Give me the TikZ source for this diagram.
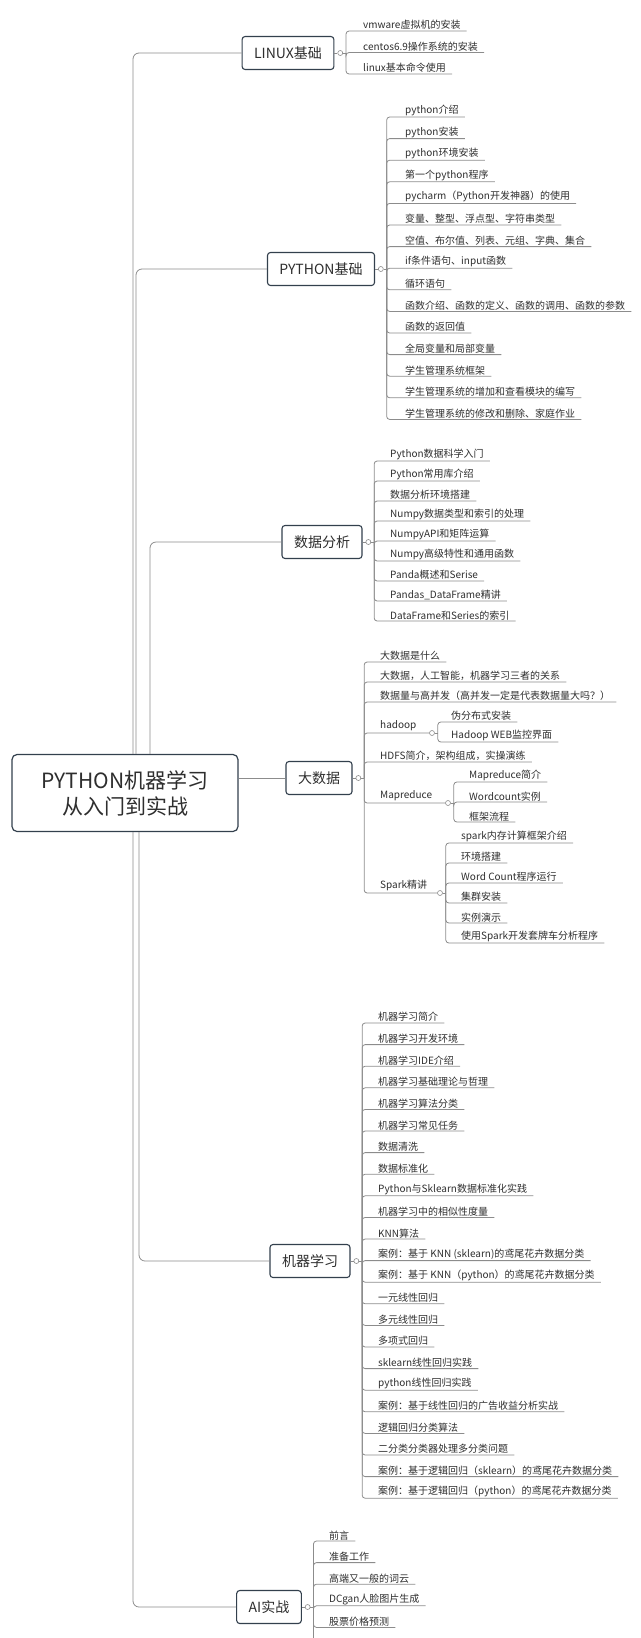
\documentclass[tikz,border=0pt]{standalone}
\usepackage{fontspec}
\setmainfont{Noto Sans CJK SC}
\usetikzlibrary{positioning}
\definecolor{boxline}{HTML}{33404D}
\definecolor{txt}{HTML}{2E2E2E}
\definecolor{wire}{HTML}{8C8C8C}
\tikzset{
  root/.style={draw=boxline, line width=1.2pt, rounded corners=5pt, fill=white, text=txt, align=center,
    minimum width=226pt, minimum height=77pt, font=\fontsize{21}{26}\selectfont},
  branch/.style={draw=boxline, line width=1.1pt, rounded corners=3pt, fill=white, text=txt,
    minimum height=33pt, inner xsep=12pt, font=\fontsize{14}{16}\selectfont},
  leaf/.style={anchor=south west, inner sep=1pt, text=txt, font=\fontsize{10}{12}\selectfont},
  knob/.style={circle, draw=wire, fill=white, inner sep=0pt, minimum size=5pt, line width=0.6pt},
  link/.style={draw=wire, line width=0.8pt, rounded corners=3pt},
  trunk/.style={draw=wire, line width=0.8pt, rounded corners=6pt}
}
\begin{document}
\begin{tikzpicture}[x=1pt, y=-1pt]
\useasboundingbox (0,0) rectangle (640,1638);
\clip (0,0) rectangle (640,1638);

% main topics
\node (root)  [root]   at (125,793)  {PYTHON机器学习\\从入门到实战};
\node (linux) [branch] at (288,53)   {LINUX基础};
\node (py)    [branch] at (321,269)  {PYTHON基础};
\node (da)    [branch] at (322,542)  {数据分析};
\node (bd)    [branch] at (319,778)  {大数据};
\node (ml)    [branch] at (310,1261) {机器学习};
\node (ai)    [branch] at (269,1607) {AI实战};

\draw [trunk] ([xshift=8pt]root.north)  |- (linux.west);
\draw [trunk] ([xshift=11pt]root.north) |- (py.west);
\draw [trunk] ([xshift=25pt]root.north) |- (da.west);
\draw [link]  (root.east |- bd) -- (bd.west);
\draw [trunk] ([xshift=14pt]root.south) |- (ml.west);
\draw [trunk] ([xshift=8pt]root.south)  |- (ai.west);

% knobs
\foreach \b in {linux,py,da,bd,ml,ai} {
  \node (\b k) [knob, right=3pt of \b] {};
  \coordinate (\b v) at ([xshift=3pt]\b k.east);
  \draw [link] (\b) -- (\b k) -- (\b v);
}

% LINUX
\foreach \t [count=\i] in {vmware虚拟机的安装, centos6.9操作系统的安装, linux基本命令使用} {
  \node (linux-\i) [leaf] at (362,{32+21.5*(\i-1)-1}) {\t};
  \draw [link] (linuxv) |- ([xshift=5pt]linux-\i.south east);
}

% PYTHON
\foreach \t [count=\i] in {python介绍, python安装, python环境安装, 第一个python程序,
  {pycharm（Python开发神器）的使用}, {变量、整型、浮点型、字符串类型}, {空值、布尔值、列表、元组、字典、集合},
  {if条件语句、input函数}, 循环语句, {函数介绍、函数的定义、函数的调用、函数的参数}, 函数的返回值,
  全局变量和局部变量, 学生管理系统框架, 学生管理系统的增加和查看模块的编写, {学生管理系统的修改和删除、家庭作业}} {
  \node (py-\i) [leaf] at (404,{118+21.6*(\i-1)-1}) {\t};
  \draw [link] (pyv) |- ([xshift=5pt]py-\i.south east);
}

% 数据分析
\foreach \t [count=\i] in {Python数据科学入门, Python常用库介绍, 数据分析环境搭建, Numpy数据类型和索引的处理,
  NumpyAPI和矩阵运算, Numpy高级特性和通用函数, Panda概述和Serise, Pandas\_DataFrame精讲, DataFrame和Series的索引} {
  \node (da-\i) [leaf] at (389,{462+20*(\i-1)-1}) {\t};
  \draw [link] (dav) |- ([xshift=5pt]da-\i.south east);
}

% 大数据
\foreach \y/\t [count=\i] in {663/大数据是什么, 683/{大数据，人工智能，机器学习三者的关系},
  703/{数据量与高并发（高并发一定是代表数据量大吗？）}, 763/{HDFS简介，架构组成，实操演练}} {
  \node (bd-\i) [leaf] at (379,\y-1) {\t};
  \draw [link] (bdv) |- ([xshift=5pt]bd-\i.south east);
}
\node (hadoop) [leaf] at (379,732) {hadoop};
\node (mapred) [leaf] at (379,802) {Mapreduce};
\node (spark)  [leaf] at (379,892) {Spark精讲};
\node (hadoopk) [knob] at (432,733) {};
\node (mapredk) [knob] at (448,803) {};
\node (sparkk)  [knob] at (440,893) {};
\foreach \s in {hadoop,mapred,spark} {
  \draw [link] (bdv) |- (\s k.west);
  \coordinate (\s v) at ([xshift=3pt]\s k.east);
  \draw [link] (\s k) -- (\s v);
}
\foreach \y/\t [count=\i] in {723/伪分布式安装, 743/Hadoop WEB监控界面} {
  \node (hadoop-\i) [leaf] at (450,\y-1) {\t};
  \draw [link] (hadoopv) |- ([xshift=5pt]hadoop-\i.south east);
}
\foreach \y/\t [count=\i] in {783/Mapreduce简介, 803/Wordcount实例, 823/框架流程} {
  \node (mapred-\i) [leaf] at (468,\y-1) {\t};
  \draw [link] (mapredv) |- ([xshift=5pt]mapred-\i.south east);
}
\foreach \t [count=\i] in {spark内存计算框架介绍, 环境搭建, Word Count程序运行, 集群安装, 实例演示, 使用Spark开发套牌车分析程序} {
  \node (spark-\i) [leaf] at (460,{844+20*(\i-1)-1}) {\t};
  \draw [link] (sparkv) |- ([xshift=5pt]spark-\i.south east);
}

% 机器学习
\foreach \t [count=\i] in {机器学习简介, 机器学习开发环境, 机器学习IDE介绍, 机器学习基础理论与哲理, 机器学习算法分类,
  机器学习常见任务, 数据清洗, 数据标准化, Python与Sklearn数据标准化实践, 机器学习中的相似性度量, KNN算法,
  {案例：基于 KNN (sklearn)的鸢尾花卉数据分类}, {案例：基于 KNN（python）的鸢尾花卉数据分类}, 一元线性回归,
  多元线性回归, 多项式回归, sklearn线性回归实践, python线性回归实践, {案例：基于线性回归的广告收益分析实战},
  逻辑回归分类算法, 二分类分类器处理多分类问题, {案例：基于逻辑回归（sklearn）的鸢尾花卉数据分类},
  {案例：基于逻辑回归（python）的鸢尾花卉数据分类}} {
  \node (ml-\i) [leaf] at (377,{1024+21.6*(\i-1)-1}) {\t};
  \draw [link] (mlv) |- ([xshift=5pt]ml-\i.south east);
}

% AI实战
\foreach \t [count=\i] in {前言, 准备工作, 高端又一般的词云, DCgan人脸图片生成, 股票价格预测, TensorFlow物体检测} {
  \node (ai-\i) [leaf] at (328,{1542+21.6*(\i-1)-1}) {\t};
  \draw [link] (aiv) |- ([xshift=5pt]ai-\i.south east);
}
\end{tikzpicture}
\end{document}
